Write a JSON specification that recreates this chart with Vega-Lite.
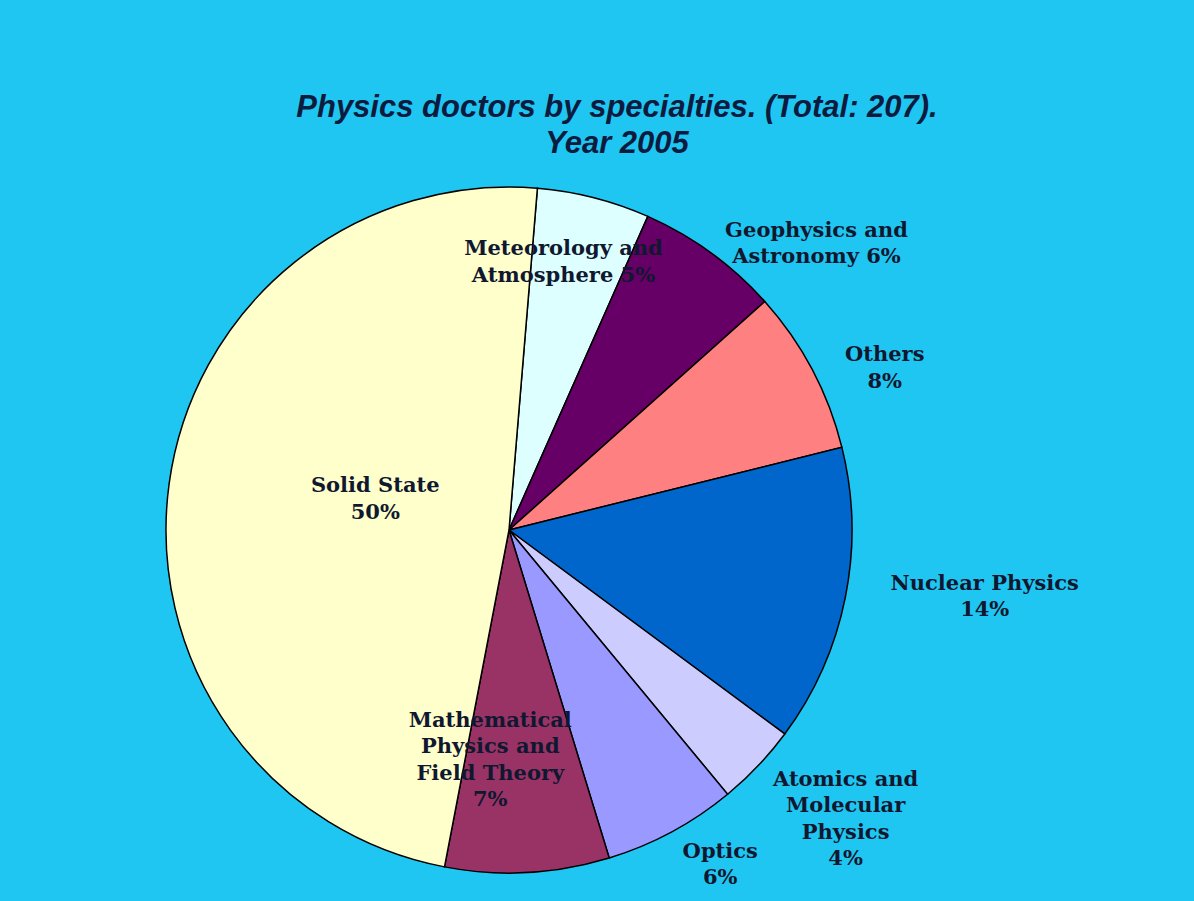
{
  "$schema": "https://vega.github.io/schema/vega-lite/v6.json",
  "width": 1018,
  "height": 700,
  "autosize": "none",
  "padding": {"left": 0, "top": 180, "right": 176, "bottom": 21},
  "background": "#20C6F2",
  "title": {
    "text": ["Physics doctors by specialties. (Total: 207).", "Year 2005"],
    "font": "Liberation Sans",
    "fontSize": 31,
    "fontWeight": "bold",
    "fontStyle": "italic",
    "color": "#0C1B3E",
    "lineHeight": 36,
    "anchor": "middle",
    "dx": 108,
    "offset": -146
  },
  "data": {
    "values": [
      {"cat": "Meteorology and Atmosphere", "label": "Meteorology and\nAtmosphere 5%", "count": 11, "idx": 1},
      {"cat": "Geophysics and Astronomy", "label": "Geophysics and\nAstronomy 6%", "count": 14, "idx": 2},
      {"cat": "Others", "label": "Others\n8%", "count": 16, "idx": 3},
      {"cat": "Nuclear Physics", "label": "Nuclear Physics\n14%", "count": 29, "idx": 4},
      {"cat": "Atomics and Molecular Physics", "label": "Atomics and\nMolecular\nPhysics\n4%", "count": 8, "idx": 5},
      {"cat": "Optics", "label": "Optics\n6%", "count": 13, "idx": 6},
      {"cat": "Mathematical Physics and Field Theory", "label": "Mathematical\nPhysics and\nField Theory\n7%", "count": 16, "idx": 7},
      {"cat": "Solid State", "label": "Solid State\n50%", "count": 100, "idx": 8}
    ]
  },
  "encoding": {
    "theta": {"field": "count", "type": "quantitative", "stack": true, "scale": {"range": [0.0829, 6.3661]}},
    "order": {"field": "idx", "type": "quantitative"}
  },
  "layer": [
    {
      "mark": {"type": "arc", "outerRadius": 343, "stroke": "#000000", "strokeWidth": 1.5},
      "encoding": {
        "color": {
          "field": "cat",
          "type": "nominal",
          "scale": {
            "domain": ["Meteorology and Atmosphere", "Geophysics and Astronomy", "Others", "Nuclear Physics", "Atomics and Molecular Physics", "Optics", "Mathematical Physics and Field Theory", "Solid State"],
            "range": ["#DDFFFF", "#660066", "#FF8080", "#0066CC", "#CCCCFF", "#9999FF", "#993366", "#FFFFCC"]
          },
          "legend": null
        }
      }
    },
    {
      "mark": {"type": "text", "radius": 273, "dx": -13, "dy": -16, "font": "DejaVu Serif", "fontSize": 21, "fontWeight": "bold", "lineBreak": "\n", "lineHeight": 26.5, "color": "#101830"},
      "encoding": {"text": {"condition": {"test": "datum.idx === 1", "field": "label", "type": "nominal"}, "value": ""}}
    },
    {
      "mark": {"type": "text", "radius": 412, "dx": 65, "dy": 34, "font": "DejaVu Serif", "fontSize": 21, "fontWeight": "bold", "lineBreak": "\n", "lineHeight": 26.5, "color": "#101830"},
      "encoding": {"text": {"condition": {"test": "datum.idx === 2", "field": "label", "type": "nominal"}, "value": ""}}
    },
    {
      "mark": {"type": "text", "radius": 408, "dx": 15, "dy": 16, "font": "DejaVu Serif", "fontSize": 21, "fontWeight": "bold", "lineBreak": "\n", "lineHeight": 26.5, "color": "#101830"},
      "encoding": {"text": {"condition": {"test": "datum.idx === 3", "field": "label", "type": "nominal"}, "value": ""}}
    },
    {
      "mark": {"type": "text", "radius": 480, "dx": 5, "dy": -40, "font": "DejaVu Serif", "fontSize": 21, "fontWeight": "bold", "lineBreak": "\n", "lineHeight": 26.5, "color": "#101830"},
      "encoding": {"text": {"condition": {"test": "datum.idx === 4", "field": "label", "type": "nominal"}, "value": ""}}
    },
    {
      "mark": {"type": "text", "radius": 443, "dx": 15, "dy": -55, "font": "DejaVu Serif", "fontSize": 21, "fontWeight": "bold", "lineBreak": "\n", "lineHeight": 26.5, "color": "#101830"},
      "encoding": {"text": {"condition": {"test": "datum.idx === 5", "field": "label", "type": "nominal"}, "value": ""}}
    },
    {
      "mark": {"type": "text", "radius": 395, "dx": 24, "dy": -26, "font": "DejaVu Serif", "fontSize": 21, "fontWeight": "bold", "lineBreak": "\n", "lineHeight": 26.5, "color": "#101830"},
      "encoding": {"text": {"condition": {"test": "datum.idx === 6", "field": "label", "type": "nominal"}, "value": ""}}
    },
    {
      "mark": {"type": "text", "radius": 229, "dx": -31, "dy": -38, "font": "DejaVu Serif", "fontSize": 21, "fontWeight": "bold", "lineBreak": "\n", "lineHeight": 26.5, "color": "#101830"},
      "encoding": {"text": {"condition": {"test": "datum.idx === 7", "field": "label", "type": "nominal"}, "value": ""}}
    },
    {
      "mark": {"type": "text", "radius": 137, "dx": 2, "dy": -25, "font": "DejaVu Serif", "fontSize": 21, "fontWeight": "bold", "lineBreak": "\n", "lineHeight": 26.5, "color": "#101830"},
      "encoding": {"text": {"condition": {"test": "datum.idx === 8", "field": "label", "type": "nominal"}, "value": ""}}
    }
  ],
  "config": {"view": {"stroke": null}}
}
